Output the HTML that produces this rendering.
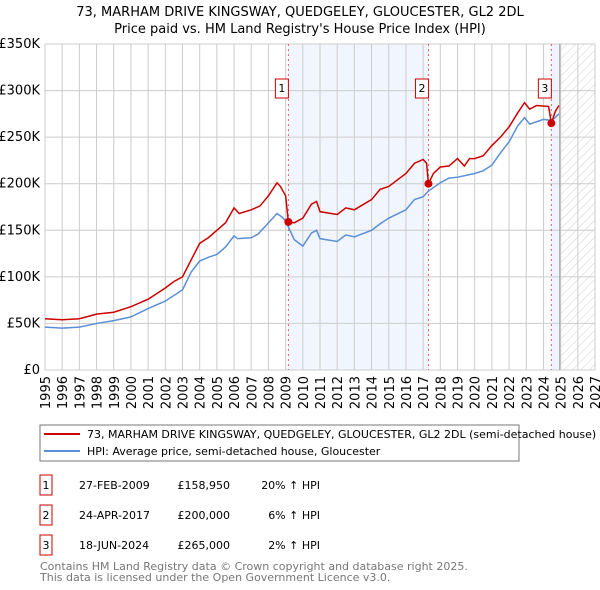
<!DOCTYPE html>
<html><head><meta charset="utf-8"><style>
body{margin:0;background:#fff;}
svg{display:block;font-family:"DejaVu Sans","Liberation Sans",sans-serif;}
</style></head><body>
<svg id="c" width="600" height="590">
<defs><pattern id="h" width="6" height="6" patternUnits="userSpaceOnUse" patternTransform="rotate(45)"><line x1="0" y1="0" x2="0" y2="6" stroke="#bbb" stroke-width="0.7"/></pattern></defs>
<text x="300" y="16" text-anchor="middle" font-size="13">73, MARHAM DRIVE KINGSWAY, QUEDGELEY, GLOUCESTER, GL2 2DL</text>
<text x="300" y="33" text-anchor="middle" font-size="13">Price paid vs. HM Land Registry's House Price Index (HPI)</text>
<g id="plot"></g>
<g id="legend">
<rect x="40" y="425" width="479" height="36" fill="#fff" stroke="#777"/>
<line x1="44" y1="434" x2="80" y2="434" stroke="#cc0000" stroke-width="2"/>
<text x="87" y="438" font-size="11">73, MARHAM DRIVE KINGSWAY, QUEDGELEY, GLOUCESTER, GL2 2DL (semi-detached house)</text>
<line x1="44" y1="451" x2="80" y2="451" stroke="#5b8fd6" stroke-width="2"/>
<text x="87" y="455" font-size="11">HPI: Average price, semi-detached house, Gloucester</text>
</g>
<g font-size="11">
<rect x="40" y="475" width="12" height="20" fill="none" stroke="#cc0000"/><text x="46" y="489" text-anchor="middle">1</text>
<text x="79" y="489">27-FEB-2009</text><text x="230" y="489" text-anchor="end">£158,950</text><text x="320" y="489" text-anchor="end">20% ↑ HPI</text>
<rect x="40" y="505" width="12" height="20" fill="none" stroke="#cc0000"/><text x="46" y="519" text-anchor="middle">2</text>
<text x="79" y="519">24-APR-2017</text><text x="230" y="519" text-anchor="end">£200,000</text><text x="320" y="519" text-anchor="end">6% ↑ HPI</text>
<rect x="40" y="535" width="12" height="20" fill="none" stroke="#cc0000"/><text x="46" y="549" text-anchor="middle">3</text>
<text x="79" y="549">18-JUN-2024</text><text x="230" y="549" text-anchor="end">£265,000</text><text x="320" y="549" text-anchor="end">2% ↑ HPI</text>
</g>
<text x="40" y="570" font-size="11" fill="#777">Contains HM Land Registry data © Crown copyright and database right 2025.</text>
<text x="40" y="581" font-size="11" fill="#777">This data is licensed under the Open Government Licence v3.0.</text>
</svg>
<script>
const hpiYears=[1995,1996,1997,1998,1999,2000,2001,2002,2002.5,2003,2003.5,2004,2004.5,2005,2005.5,2006,2006.2,2007,2007.4,2008,2008.5,2008.8,2009,2009.5,2010,2010.5,2010.8,2011,2012,2012.5,2013,2014,2014.5,2015,2016,2016.5,2017,2017.3,2018,2018.5,2019,2019.5,2020,2020.5,2021,2021.5,2022,2022.5,2022.9,2023.2,2024,2024.5,2024.9];
const hpiValues=[46,45,46,50,53,57,66,74,80,86,105,117,121,124,132,144,141,142,146,158,168,164,160,140,133,147,150,141,138,145,143,150,157,163,172,183,186,192,201,206,207,209,211,214,220,233,245,262,271,264,269,268,275];
const priceYears=[1995,1996,1997,1998,1999,2000,2001,2002,2002.5,2003,2003.5,2004,2004.5,2005,2005.5,2006,2006.3,2007,2007.5,2008,2008.5,2008.7,2009,2009.16,2009.5,2010,2010.5,2010.8,2011,2012,2012.5,2013,2014,2014.5,2015,2016,2016.5,2017,2017.2,2017.31,2017.6,2018,2018.5,2019,2019.4,2019.7,2020,2020.5,2021,2021.5,2022,2022.5,2022.9,2023.2,2023.6,2024.3,2024.46,2024.7,2024.9];
const priceValues=[55,54,55,60,62,68,76,88,95,100,118,136,142,150,158,174,168,172,176,187,201,197,187,159,158,163,178,181,170,167,174,172,183,194,197,211,222,226,222,200,211,218,219,227,219,227,227,230,241,250,261,276,287,280,284,283,265,278,284];
const saleYears=[2009.16,2017.31,2024.46];
const saleValues=[158.95,200,265];
const saleLabels=["1","2","3"];
const yTicks=[0,50,100,150,200,250,300,350];
const yTickLabels=["£0","£50K","£100K","£150K","£200K","£250K","£300K","£350K"];
const xTicks=[1995,1996,1997,1998,1999,2000,2001,2002,2003,2004,2005,2006,2007,2008,2009,2010,2011,2012,2013,2014,2015,2016,2017,2018,2019,2020,2021,2022,2023,2024,2025,2026,2027];
const X0=45,X1=595,Y0=370,Y1=44;
const xs=y=>X0+(y-1995)/(2027-1995)*(X1-X0);
const ys=v=>Y0-v/350*(Y0-Y1);
const NS="http://www.w3.org/2000/svg";
const g=document.getElementById('plot');
function mk(t,a,p){const e=document.createElementNS(NS,t);for(const k in a)e.setAttribute(k,a[k]);(p||g).appendChild(e);return e;}
// shaded regions
let r=mk('rect',{x:xs(saleYears[0]),y:Y1,width:xs(saleYears[1])-xs(saleYears[0]),height:Y0-Y1,fill:'#eef3fc',opacity:0.8});


r=mk('rect',{x:xs(saleYears[2]),y:Y1,width:xs(2024.95)-xs(saleYears[2]),height:Y0-Y1,fill:'#eef3fc'});


r=mk('rect',{x:xs(2025),y:Y1,width:X1-xs(2025),height:Y0-Y1,fill:'url(#h)'});


// grid
xTicks.forEach(t=>{
 const l=mk('line',{x1:xs(t),x2:xs(t),y1:Y1,y2:Y0,stroke:'#ccc','stroke-width':1});
 
 
 const tx=mk('text',{x:0,y:0,'font-size':13,'text-anchor':'end',transform:`translate(${xs(t)+5},${Y0+6}) rotate(-90)`});
 tx.textContent=t;
 
 
});
yTicks.forEach((t,i)=>{
 const l=mk('line',{x1:X0,x2:X1,y1:ys(t),y2:ys(t),stroke:'#ccc','stroke-width':1});
 
 
 const tx=mk('text',{x:X0-5,y:ys(t)+4,'font-size':13,'text-anchor':'end'});
 tx.textContent=yTickLabels[i];
 
 
});
const fr=mk('rect',{x:X0,y:Y1,width:X1-X0,height:Y0-Y1,fill:'none',stroke:'#ccc'});


const nl=mk('line',{x1:xs(2024.95),x2:xs(2024.95),y1:Y1,y2:Y0,stroke:'#999'});


// sale vlines
saleYears.forEach((s,i)=>{
 const l=mk('line',{x1:xs(s),x2:xs(s),y1:Y1,y2:Y0,stroke:'#e06060','stroke-dasharray':'2,3'});
 
 
});
// series
const hp=mk('polyline',{points:hpiYears.map((y,i)=>xs(y)+','+ys(hpiValues[i])).join(' '),fill:'none',stroke:'#5b8fd6','stroke-width':1.5});


const pp=mk('polyline',{points:priceYears.map((y,i)=>xs(y)+','+ys(priceValues[i])).join(' '),fill:'none',stroke:'#cc0000','stroke-width':1.5});


saleYears.forEach((s,i)=>{
 const c=mk('circle',{cx:xs(s),cy:ys(saleValues[i]),r:4,fill:'#cc0000'});
 
 
 const b=mk('rect',{x:xs(s)-13,y:79,width:13,height:19,fill:'#fff',stroke:'#cc0000'});
 
 
 const t=mk('text',{x:xs(s)-6.5,y:92,'font-size':11,'text-anchor':'middle'});
 t.textContent=saleLabels[i];
 
 
});
</script>
</body></html>
